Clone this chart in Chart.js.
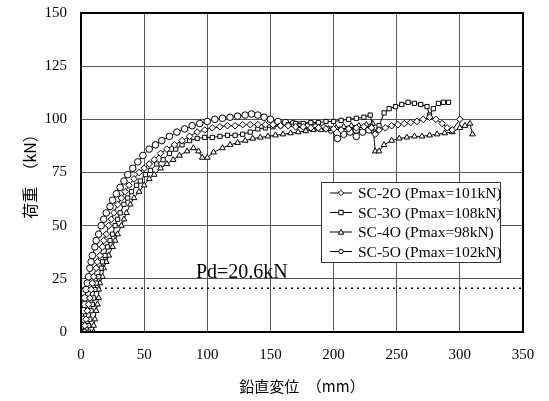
<!DOCTYPE html>
<html><head><meta charset="utf-8">
<script src="https://cdn.jsdelivr.net/npm/chart.js@4/dist/chart.umd.min.js"></script>
<style>html,body{margin:0;padding:0;background:#fff}</style>
</head><body>
<canvas id="c" width="549" height="401"></canvas>
<script>
// ---- data ----
const xTicks = [0, 50, 100, 150, 200, 250, 300, 350];
const yTicks = [0, 25, 50, 75, 100, 125, 150];
const seriesNames = ['SC-2O (Pmax=101kN)', 'SC-3O (Pmax=108kN)', 'SC-4O (Pmax=98kN)', 'SC-5O (Pmax=102kN)'];
const pdValue = 20.6;
const pdLabel = 'Pd=20.6kN';

const sc2X = [0,3,3,4,5,6,7,8,9,10,12,13,15,17,18,20,22,24,26,29,32,35,38,42,46,50,54,58,63,68,74,80,86,92,98,104,110,116,122,128,134,140,146,152,158,164,170,176,182,188,194,200,206,212,218,224,230,233,236,241,246,251,256,261,266,271,276,281,286,290,294,300];
const sc2Y = [0,0,3,6,10,13,16,20,23,26,30,33,36,40,43,46,50,53,56,60,63,66,69,72,75,77,79,81,84,86,88,90,92,94,95,96,96.5,97,97,97.5,97.5,97.5,97.5,97.5,97,97,96.5,96.5,96,96,95.5,95.5,95,95.5,96,96.5,96,93,95,96,97,97.5,98,98.5,99,100,101,100,98,96,95,100];

const sc3X = [0,6,6,7,8,9,10,11,12,14,16,17,19,21,23,25,27,29,31,34,37,40,44,47,51,55,60,65,70,75,80,86,92,98,104,110,116,122,128,134,140,146,152,158,164,170,176,182,188,194,200,206,212,218,224,229,232,236,240,244,249,254,259,264,269,274,276,279,283,287,291];
const sc3Y = [0,0,3,6,10,13,16,20,23,26,30,33,36,40,43,46,50,53,56,60,63,66,69,71,74,76,79,81,84,86,88,90,91,91.5,91.5,92,92.5,92.5,93,94,95.5,96,96.5,97,97.5,98,98,98.5,98.5,99,99,99.5,100,100.5,101,102,94,97,103,105,106,107,108,107.5,107,106,102,105,107.5,108,108];

const sc4X = [0,10,10,11,12,13,14,14,15,17,18,20,22,25,27,29,32,34,36,39,42,46,50,54,58,63,68,73,78,84,89,93,96,100,105,112,118,124,130,136,142,148,154,160,166,172,178,184,190,196,202,208,214,220,226,231,233,236,240,246,252,258,264,270,276,282,288,294,300,304,308,310];
const sc4Y = [0,0,3,6,10,13,16,20,23,26,30,33,36,40,43,46,50,53,56,60,63,66,69,72,74,77,79,81,83,85,86.5,85,82,82,84.5,86.5,88,89,90,91,91.5,92,92.5,93,93.5,94,94.5,95,95,95.5,96,96.5,97,97,97.5,98,85,85,88,90,91,91.5,92,92,92.5,93,93.5,94,96,97,98,93];

const sc5X = [0,1,1,2,2,3,3,4,5,6,7,8,9,11,12,14,16,18,20,23,25,28,31,34,37,41,45,49,54,59,64,70,76,82,88,94,100,106,112,118,124,130,135,140,145,150,156,162,168,174,180,186,192,198,203,208,213,218,218,223,228];
const sc5Y = [0,0,3,6,10,13,16,20,23,26,30,33,36,40,43,46,50,53,56,59,62,65,68,71,74,77,80,83,86,88,90,92,94,95.5,97,98,99,100,100.5,101,101.5,102,102.5,102,101,100,99,98.5,98,97.5,97,96.5,96,95,91,93,94,92,95,94,95];

const seriesX = [sc2X, sc3X, sc4X, sc5X];
const seriesY = [sc2Y, sc3Y, sc4Y, sc5Y];
const seriesMarkers = ['rectRot', 'rect', 'triangle', 'circle'];

const SERIF = "'Liberation Serif', 'Times New Roman', serif";
const JP = "'Noto Sans CJK JP', sans-serif";

const datasets = seriesNames.map((name, i) => ({
  label: name,
  data: seriesX[i].map((x, k) => ({x: x, y: seriesY[i][k]})),
  showLine: true,
  borderColor: '#000',
  borderWidth: 1,
  pointStyle: seriesMarkers[i],
  pointRadius: seriesMarkers[i] === 'rect' ? 3 : 3.3,
  pointBackgroundColor: '#fff',
  pointBorderColor: '#000',
  pointBorderWidth: 1
}));
datasets.push({
  label: 'Pd',
  data: [{x: xTicks[0], y: pdValue}, {x: xTicks[xTicks.length - 1], y: pdValue}],
  showLine: true,
  borderColor: '#000',
  borderWidth: 1.5,
  borderDash: [2, 4],
  pointRadius: 0
});

const framePlugin = {
  id: 'frame',
  afterDraw(chart) {
    const {ctx, chartArea: a, scales} = chart;
    ctx.save();
    ctx.strokeStyle = '#000';
    ctx.lineWidth = 2;
    ctx.strokeRect(a.left, a.top, a.right - a.left, a.bottom - a.top);

    // Pd label
    ctx.fillStyle = '#000';
    ctx.font = "20px " + SERIF;
    ctx.textAlign = 'left';
    ctx.textBaseline = 'alphabetic';
    ctx.fillText(pdLabel, scales.x.getPixelForValue(91), scales.y.getPixelForValue(25.3));

    // Legend box
    const bx = a.right - 202, by = a.top + 169, bw = 179, bh = 80;
    ctx.fillStyle = '#fff';
    ctx.fillRect(bx, by, bw, bh);
    ctx.lineWidth = 1;
    ctx.strokeStyle = '#333';
    ctx.strokeRect(bx + 0.5, by + 0.5, bw, bh);
    ctx.font = "15.5px " + SERIF;
    ctx.textBaseline = 'middle';
    seriesNames.forEach((name, i) => {
      const cy = by + 11 + i * 19.5;
      const lx = bx + 9;
      ctx.strokeStyle = '#000';
      ctx.lineWidth = 1;
      ctx.beginPath();
      ctx.moveTo(lx, cy); ctx.lineTo(lx + 22, cy);
      ctx.stroke();
      const mx = lx + 11, r = 2.2;
      ctx.fillStyle = '#fff';
      ctx.beginPath();
      const m = seriesMarkers[i];
      if (m === 'circle') ctx.arc(mx, cy, r, 0, Math.PI * 2);
      else if (m === 'rect') ctx.rect(mx - r, cy - r, 2 * r, 2 * r);
      else if (m === 'triangle') { ctx.moveTo(mx, cy - r - 0.5); ctx.lineTo(mx + r + 0.5, cy + r); ctx.lineTo(mx - r - 0.5, cy + r); ctx.closePath(); }
      else { ctx.moveTo(mx, cy - r - 0.5); ctx.lineTo(mx + r + 0.5, cy); ctx.lineTo(mx, cy + r + 0.5); ctx.lineTo(mx - r - 0.5, cy); ctx.closePath(); }
      ctx.fill(); ctx.stroke();
      ctx.fillStyle = '#000';
      ctx.fillText(name, lx + 28, cy + 1);
    });
    ctx.restore();
  }
};

new Chart(document.getElementById('c'), {
  type: 'scatter',
  data: {datasets},
  options: {
    responsive: false,
    animation: false,
    devicePixelRatio: 1,
    layout: {autoPadding: false, padding: {top: 13, right: 26, left: 0, bottom: 0}},
    plugins: {legend: {display: false}, tooltip: {enabled: false}},
    scales: {
      x: {
        type: 'linear', min: 0, max: 350,
        afterBuildTicks: s => { s.ticks = xTicks.map(v => ({value: v})); },
        afterFit: s => { s.height = 69; },
        ticks: {color: '#000', font: {family: SERIF, size: 15}, padding: 0, maxRotation: 0},
        grid: {color: '#555', lineWidth: 1, drawTicks: true, tickLength: 14, tickColor: 'rgba(0,0,0,0)'},
        border: {color: '#000', width: 2},
        title: {display: true, text: '鉛直変位　（mm）', color: '#000', font: {family: JP, size: 15}, padding: {top: 0, bottom: 6}}
      },
      y: {
        type: 'linear', min: 0, max: 150,
        afterBuildTicks: s => { s.ticks = yTicks.map(v => ({value: v})); },
        afterFit: s => { s.width = 81; },
        ticks: {color: '#000', font: {family: SERIF, size: 15}, padding: 0},
        grid: {color: '#555', lineWidth: 1, drawTicks: true, tickLength: 14, tickColor: 'rgba(0,0,0,0)'},
        border: {color: '#000', width: 2},
        title: {display: true, text: '荷重　（kN）', color: '#000', font: {family: JP, size: 16}, padding: {top: 20, bottom: 0}}
      }
    }
  },
  plugins: [framePlugin]
});
</script>
</body></html>
